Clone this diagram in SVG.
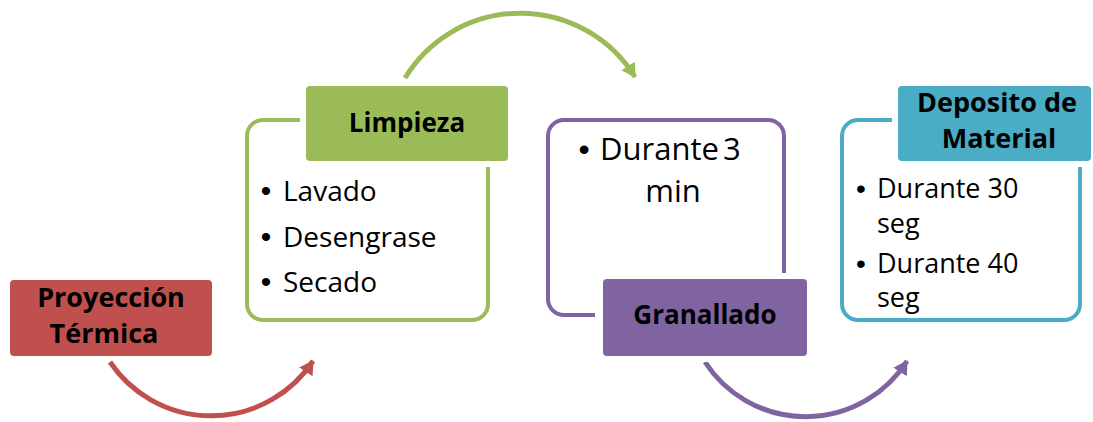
<svg xmlns="http://www.w3.org/2000/svg" width="1093" height="422" viewBox="0 0 1093 422">
<style>
.body{font-family:"Open Sans","Liberation Sans",sans-serif;fill:#000}
.bul{font-family:"Liberation Sans",sans-serif;fill:#000;text-anchor:middle}
.hd{font-family:"Open Sans","Liberation Sans",sans-serif;font-weight:bold;fill:#000;text-anchor:middle}
.gap{fill:#fff}
.out{fill:#fff;stroke-width:4}
.arc{fill:none;stroke-width:5}
</style>
<defs>
<marker id="mr" markerUnits="userSpaceOnUse" markerWidth="18" markerHeight="18" refX="13" refY="8" orient="auto"><path d="M0,0 L14,8 L0,16 Z" fill="#C0504D"/></marker>
<marker id="mg" markerUnits="userSpaceOnUse" markerWidth="18" markerHeight="18" refX="13" refY="8" orient="auto"><path d="M0,0 L14,8 L0,16 Z" fill="#9BBB59"/></marker>
<marker id="mp" markerUnits="userSpaceOnUse" markerWidth="18" markerHeight="18" refX="13" refY="8" orient="auto"><path d="M0,0 L14,8 L0,16 Z" fill="#8064A2"/></marker>
</defs>
<rect width="1093" height="422" fill="#fff"/>
<g id="connectors">
<path class="arc" stroke="#C0504D" d="M110,362 A122,122 0 0 0 313,361" marker-end="url(#mr)"/>
<path class="arc" stroke="#9BBB59" d="M405,78 A135,135 0 0 1 635,77" marker-end="url(#mg)"/>
<path class="arc" stroke="#8064A2" d="M705,362 A120,120 0 0 0 907,361" marker-end="url(#mp)"/>
</g>
<g id="node-proyeccion">
<rect x="10" y="280" width="202" height="76" rx="4" fill="#C0504D"/>
<text class="hd" x="111" y="307" font-size="27">Proyección</text>
<text class="hd" x="104" y="343" font-size="27">Térmica</text>
</g>
<g id="node-limpieza">
<rect class="out" x="247" y="120" width="241" height="200" rx="16" stroke="#9BBB59"/>
<rect class="gap" x="300" y="80" width="214" height="87" rx="6"/>
<rect x="306" y="86" width="202" height="75" rx="4" fill="#9BBB59"/>
<text class="hd" x="407" y="132" font-size="26">Limpieza</text>
<text class="bul" x="266" y="201" font-size="30">•</text>
<text class="body" x="283" y="201" font-size="28">Lavado</text>
<text class="bul" x="266" y="247" font-size="30">•</text>
<text class="body" x="283" y="247" font-size="28">Desengrase</text>
<text class="bul" x="266" y="292" font-size="30">•</text>
<text class="body" x="283" y="292" font-size="28">Secado</text>
</g>
<g id="node-granallado">
<rect class="out" x="548" y="120" width="236" height="195" rx="16" stroke="#8064A2"/>
<rect class="gap" x="595" y="273" width="218" height="89" rx="6"/>
<rect x="603" y="279" width="204" height="77" rx="4" fill="#8064A2"/>
<text class="hd" x="705" y="324" font-size="26">Granallado</text>
<text class="bul" x="584" y="160" font-size="32">•</text>
<text class="body" x="600" y="160" font-size="31" word-spacing="-4">Durante 3</text>
<text class="body" x="673" y="202" font-size="31" text-anchor="middle">min</text>
</g>
<g id="node-deposito">
<rect class="out" x="842" y="120" width="238" height="200" rx="16" stroke="#4BACC6"/>
<rect class="gap" x="892" y="80" width="201" height="87" rx="6"/>
<rect x="898" y="86" width="193" height="75" rx="4" fill="#4BACC6"/>
<text class="hd" x="997" y="112" font-size="27">Deposito de</text>
<text class="hd" x="999" y="148" font-size="27">Material</text>
<text class="bul" x="861" y="198" font-size="28">•</text>
<text class="body" x="877" y="198" font-size="27">Durante 30</text>
<text class="body" x="877" y="233" font-size="27">seg</text>
<text class="bul" x="861" y="273" font-size="28">•</text>
<text class="body" x="877" y="273" font-size="27">Durante 40</text>
<text class="body" x="877" y="307" font-size="27">seg</text>
</g>
</svg>
